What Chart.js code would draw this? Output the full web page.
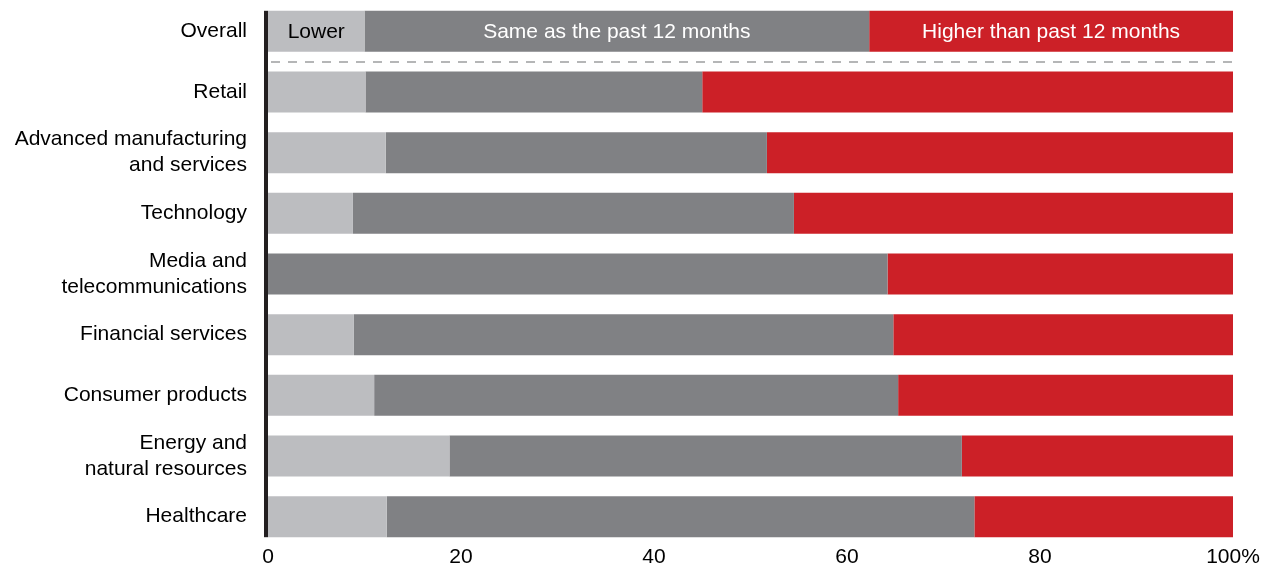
<!DOCTYPE html>
<html><head><meta charset="utf-8">
<script src="https://cdn.jsdelivr.net/npm/chart.js@4.4.1/dist/chart.umd.min.js"></script>
<style>html,body{margin:0;padding:0;background:#fff;}#wrap{width:1267px;height:567px;position:relative;}</style>
</head><body><div id="wrap"><canvas id="c"></canvas></div>
<script>
const categories = ["Overall", "Retail", ["Advanced manufacturing","and services"], "Technology", ["Media and","telecommunications"], "Financial services", "Consumer products", ["Energy and","natural resources"], "Healthcare"];
const seriesNames = ["Lower", "Same as the past 12 months", "Higher than past 12 months"];
const lower  = [10.0, 10.1, 12.2, 8.8, 0, 8.9, 11.0, 18.8, 12.3];
const same   = [52.3, 34.9, 39.5, 45.7, 64.2, 55.9, 54.3, 53.1, 60.9];
const higher = [37.7, 55.0, 48.3, 45.5, 35.8, 35.2, 34.7, 28.1, 26.8];
const tickValues = [0, 20, 40, 60, 80, 100];
const tickLabels = ["0", "20", "40", "60", "80", "100%"];
const colors = ["#bcbdc0", "#808184", "#cc2027"];
const FONT = "'Liberation Sans', Arial, sans-serif";

const overlay = {
  id: 'overlay',
  afterDatasetsDraw(chart) {
    const ctx = chart.ctx, x = chart.scales.x;
    const meta0 = chart.getDatasetMeta(0);
    const first = meta0.data[0], last = meta0.data[meta0.data.length - 1];
    const h = first.height;
    ctx.save();
    ctx.font = "21px " + FONT;
    ctx.textAlign = "center"; ctx.textBaseline = "middle";
    const txtColors = ["#000000", "#ffffff", "#ffffff"];
    chart.data.datasets.forEach((ds, i) => {
      const el = chart.getDatasetMeta(i).data[0];
      const l = Math.min(el.x, el.base), r = Math.max(el.x, el.base);
      ctx.fillStyle = txtColors[i];
      ctx.fillText(seriesNames[i], (l + r) / 2, el.y + 1);
    });
    const sepY = (first.y + meta0.data[1].y) / 2;
    ctx.strokeStyle = "#9d9ea0"; ctx.lineWidth = 1.5;
    ctx.setLineDash([9, 8]);
    ctx.beginPath(); ctx.moveTo(x.getPixelForValue(0) + 3, Math.round(sepY)); ctx.lineTo(x.getPixelForValue(100), Math.round(sepY)); ctx.stroke();
    ctx.setLineDash([]);
    ctx.fillStyle = "#231f20";
    ctx.fillRect(x.getPixelForValue(0) - 4, first.y - h / 2, 4, (last.y + h / 2) - (first.y - h / 2));
    ctx.restore();
  }
};

new Chart(document.getElementById('c'), {
  type: 'bar',
  data: {
    labels: categories,
    datasets: [
      { label: seriesNames[0], data: lower, backgroundColor: colors[0] },
      { label: seriesNames[1], data: same, backgroundColor: colors[1] },
      { label: seriesNames[2], data: higher, backgroundColor: colors[2] }
    ]
  },
  options: {
    indexAxis: 'y',
    responsive: true, maintainAspectRatio: false, animation: false,
    datasets: { bar: { categoryPercentage: 0.677, barPercentage: 1.0, borderWidth: 0 } },
    layout: { padding: { top: 1, right: 34, bottom: 0, left: 0 } },
    plugins: { legend: { display: false }, tooltip: { enabled: false } },
    scales: {
      x: {
        stacked: true, min: 0, max: 100,
        grid: { display: false, drawTicks: false }, border: { display: false },
        afterBuildTicks(axis) { axis.ticks = tickValues.map(v => ({ value: v })); },
        afterFit(axis) { axis.height = 20; axis.paddingLeft = 0; axis.paddingRight = 0; },
        ticks: {
          padding: 0, color: "#000", font: { family: FONT, size: 21, lineHeight: 1.0 },
          maxRotation: 0, autoSkip: false,
          callback: (v) => tickLabels[tickValues.indexOf(v)]
        }
      },
      y: {
        stacked: true,
        grid: { display: false, drawTicks: false }, border: { display: false },
        afterFit(axis) { axis.width = 268; axis.paddingTop = 0; axis.paddingBottom = 0; },
        ticks: { padding: 21, color: "#000", font: { family: FONT, size: 21, lineHeight: 1.24 }, crossAlign: 'near' }
      }
    }
  },
  plugins: [overlay]
});
</script></body></html>
